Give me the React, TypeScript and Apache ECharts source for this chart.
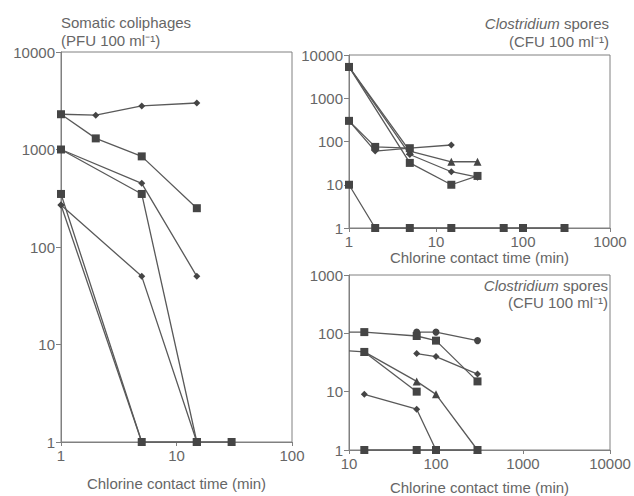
import React, { useEffect, useRef } from "react";
import * as echarts from "echarts";

// ---- Data: somatic coliphages (left panel), x = min, y = PFU/100 ml
const coliA: number[][] = [[1, 2300], [2, 2250], [5, 2800], [15, 3000]];
const coliB: number[][] = [[1, 2300], [2, 1300], [5, 850], [15, 250]];
const coliC: number[][] = [[1, 1000], [5, 450], [15, 50]];
const coliD: number[][] = [[1, 1000], [5, 350], [15, 1], [30, 1]];
const coliE: number[][] = [[1, 350], [5, 1], [15, 1]];
const coliF: number[][] = [[1, 270], [5, 1]];
const coliG: number[][] = [[1, 270], [5, 50], [15, 1]];

// ---- Clostridium spores, top-right panel
const closA: number[][] = [[1, 5300], [5, 60], [15, 34], [30, 34]];
const closB: number[][] = [[1, 5300], [5, 50], [15, 20], [30, 15]];
const closC: number[][] = [[1, 5300], [5, 32], [15, 10], [30, 16]];
const closD: number[][] = [[1, 300], [2, 60], [5, 70], [15, 83]];
const closE: number[][] = [[1, 300], [2, 75], [5, 70]];
const closF: number[][] = [[1, 10], [2, 1], [5, 1], [15, 1], [60, 1], [100, 1], [300, 1]];

// ---- Clostridium spores, bottom-right panel
const sporA: number[][] = [[60, 105], [100, 105], [300, 75]];
const sporB: number[][] = [[10, 105], [15, 105], [60, 90], [100, 75], [300, 15]];
const sporC: number[][] = [[60, 45], [100, 40], [300, 20]];
const sporD: number[][] = [[10, 50], [15, 48], [60, 15], [100, 9], [300, 1]];
const sporE: number[][] = [[15, 48], [60, 10]];
const sporF: number[][] = [[15, 9], [60, 5], [100, 1]];
const sporG: number[][] = [[15, 1], [60, 1], [100, 1], [300, 1]];

const xLabelText = "Chlorine contact time (min)";

const FONT = "'Liberation Sans', Arial, sans-serif";
const TXT = "#666";
const AX = "#808080";
const LINE = "#595959";
const MARK = "#454545";

const markerSize: Record<string, number> = {
  rect: 8,
  diamond: 7,
  triangle: 8,
  circle: 7,
};

function mkSeries(points: number[][], symbol: string, idx: number, hideAtX?: number) {
  return {
    type: "line",
    xAxisIndex: idx,
    yAxisIndex: idx,
    symbol,
    symbolSize: markerSize[symbol],
    showAllSymbol: true,
    clip: false,
    lineStyle: { color: LINE, width: 1.3 },
    itemStyle: { color: MARK },
    data: points.map((p) =>
      hideAtX !== undefined && p[0] === hideAtX ? { value: p, symbol: "none" } : p
    ),
  };
}

function mkX(idx: number, min: number, max: number, gap: number) {
  return {
    type: "log",
    logBase: 10,
    gridIndex: idx,
    min,
    max,
    splitNumber: Math.round(Math.log10(max / min)),
    axisLine: { show: true, lineStyle: { color: AX, width: 1 } },
    axisTick: { show: true, length: 4, lineStyle: { color: AX } },
    minorTick: { show: false },
    splitLine: { show: false },
    axisLabel: {
      color: TXT,
      fontSize: 15,
      fontFamily: FONT,
      margin: 6,
      formatter: (v: number) => String(Math.round(v)),
    },
    name: xLabelText,
    nameLocation: "middle",
    nameGap: gap,
    nameTextStyle: { color: TXT, fontSize: 15, fontFamily: FONT },
  };
}

function mkY(idx: number, min: number, max: number) {
  return {
    type: "log",
    logBase: 10,
    gridIndex: idx,
    min,
    max,
    splitNumber: Math.round(Math.log10(max / min)),
    axisLine: { show: true, lineStyle: { color: AX, width: 1 } },
    axisTick: { show: true, length: 5, lineStyle: { color: AX } },
    minorTick: { show: false },
    splitLine: { show: false },
    axisLabel: {
      color: TXT,
      fontSize: 15,
      fontFamily: FONT,
      margin: 6,
      formatter: (v: number) => String(Math.round(v)),
    },
  };
}

const gridBase = {
  show: true,
  borderColor: AX,
  borderWidth: 1,
  backgroundColor: "transparent",
  containLabel: false,
};

export default function App() {
  const ref = useRef<HTMLDivElement>(null);
  useEffect(() => {
    if (!ref.current) return;
    const chart = echarts.init(ref.current, null, { renderer: "svg" });
    chart.setOption({
      animation: false,
      backgroundColor: "#ffffff",
      grid: [
        { ...gridBase, left: 61, top: 52, width: 231, height: 396 },
        { ...gridBase, left: 349, top: 55, width: 261, height: 173 },
        { ...gridBase, left: 349, top: 275, width: 261, height: 177 },
      ],
      xAxis: [mkX(0, 1, 100, 34), mkX(1, 1, 1000, 16), mkX(2, 10, 10000, 30)],
      yAxis: [mkY(0, 1, 10000), mkY(1, 1, 10000), mkY(2, 1, 1000)],
      graphic: [
        {
          type: "text",
          x: 61,
          y: 13,
          style: {
            text: "Somatic coliphages\n(PFU 100 ml\u207B\u00B9)",
            fill: TXT,
            font: `15px ${FONT}`,
            lineHeight: 18,
            align: "left",
          },
        },
        {
          type: "text",
          x: 609,
          y: 14,
          style: {
            text: "{i|Clostridium} spores\n(CFU 100 ml\u207B\u00B9)",
            fill: TXT,
            font: `15px ${FONT}`,
            lineHeight: 18,
            align: "right",
            rich: {
              i: { fontStyle: "italic", fontSize: 15, fontFamily: FONT, fill: TXT },
            },
          },
        },
        {
          type: "text",
          x: 608,
          y: 277,
          style: {
            text: "{i|Clostridium} spores\n(CFU 100 ml\u207B\u00B9)",
            fill: TXT,
            font: `15px ${FONT}`,
            lineHeight: 17,
            align: "right",
            rich: {
              i: { fontStyle: "italic", fontSize: 15, fontFamily: FONT, fill: TXT },
            },
          },
        },
      ],
      series: [
        mkSeries(coliA, "diamond", 0),
        mkSeries(coliC, "diamond", 0),
        mkSeries(coliF, "diamond", 0),
        mkSeries(coliG, "diamond", 0),
        mkSeries(coliB, "rect", 0),
        mkSeries(coliD, "rect", 0),
        mkSeries(coliE, "rect", 0),
        mkSeries(closA, "triangle", 1),
        mkSeries(closB, "diamond", 1),
        mkSeries(closD, "diamond", 1),
        mkSeries(closC, "rect", 1),
        mkSeries(closE, "rect", 1),
        mkSeries(closF, "rect", 1),
        mkSeries(sporA, "circle", 2, 10),
        mkSeries(sporC, "diamond", 2, 10),
        mkSeries(sporD, "triangle", 2, 10),
        mkSeries(sporF, "diamond", 2, 10),
        mkSeries(sporB, "rect", 2, 10),
        mkSeries(sporE, "rect", 2, 10),
        mkSeries(sporG, "rect", 2, 10),
      ],
    });
    return () => chart.dispose();
  }, []);
  return (
    <div
      ref={ref}
      style={{ position: "fixed", left: 0, top: 0, width: 634, height: 496 }}
    />
  );
}
